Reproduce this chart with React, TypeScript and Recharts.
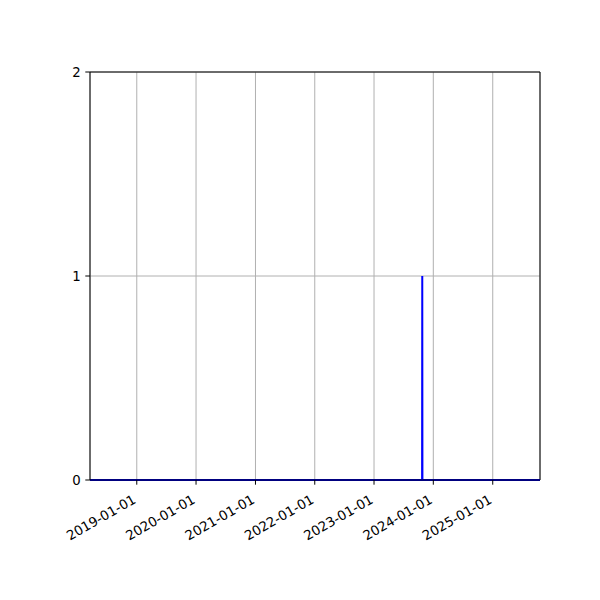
import { LineChart, Line, XAxis, YAxis, CartesianGrid, ReferenceLine } from 'recharts'

// daily counts, zero except for one day in late 2023
const dates = ['2018-03-19', '2023-10-24', '2023-10-25', '2023-10-26', '2025-10-19']
const counts = [0, 0, 1, 0, 0]
const xTicks = ['2019-01-01', '2020-01-01', '2021-01-01', '2022-01-01', '2023-01-01', '2024-01-01', '2025-01-01']
const yTicks = [0, 1, 2]

const ts = (s: string) => Date.parse(s + 'T00:00:00Z')
const fmt = (v: number) => new Date(v).toISOString().slice(0, 10)

const data = dates.map((d, i) => ({ t: ts(d), v: counts[i] }))
const tickVals = xTicks.map(ts)
const xMin = ts(dates[0])
const xMax = ts(dates[dates.length - 1])

const font = 'DejaVu Sans, sans-serif'

function DateTick({ x, y, payload }: any) {
  return (
    <g transform={`translate(${x - 5},${y + 4}) rotate(-30)`}>
      <text textAnchor="end" dy="0.76em" fontSize={13.3} fontFamily={font} fill="#000">
        {fmt(payload.value)}
      </text>
    </g>
  )
}

export default function App() {
  return (
    <div style={{ position: 'absolute', left: 0, top: 0, width: 600, height: 600, background: '#fff' }}>
      <LineChart width={600} height={600} data={data} margin={{ top: 72, right: 60, bottom: 60, left: 40 }}>
        <CartesianGrid stroke="#b0b0b0" strokeWidth={1} />
        <XAxis
          dataKey="t"
          type="number"
          scale="time"
          domain={[xMin, xMax]}
          ticks={tickVals}
          interval={0}
          height={60}
          tick={<DateTick />}
          tickSize={4.7}
          tickMargin={4.7}
          stroke="#000"
          tickLine={{ stroke: '#000', strokeWidth: 1 }}
          axisLine={{ stroke: '#000', strokeWidth: 1 }}
        />
        <YAxis
          type="number"
          domain={[0, 2]}
          ticks={yTicks}
          interval={0}
          width={50}
          tickSize={4.7}
          tickMargin={4.7}
          tick={{ fontSize: 13.3, fontFamily: font, fill: '#000' }}
          tickLine={{ stroke: '#000', strokeWidth: 1 }}
          axisLine={{ stroke: '#000', strokeWidth: 1 }}
        />
        <ReferenceLine y={2} stroke="#000" strokeWidth={1} />
        <ReferenceLine x={xMax} stroke="#000" strokeWidth={1} />
        <Line
          dataKey="v"
          stroke="#0000ff"
          strokeWidth={2}
          dot={false}
          type="linear"
          isAnimationActive={false}
        />
      </LineChart>
    </div>
  )
}
